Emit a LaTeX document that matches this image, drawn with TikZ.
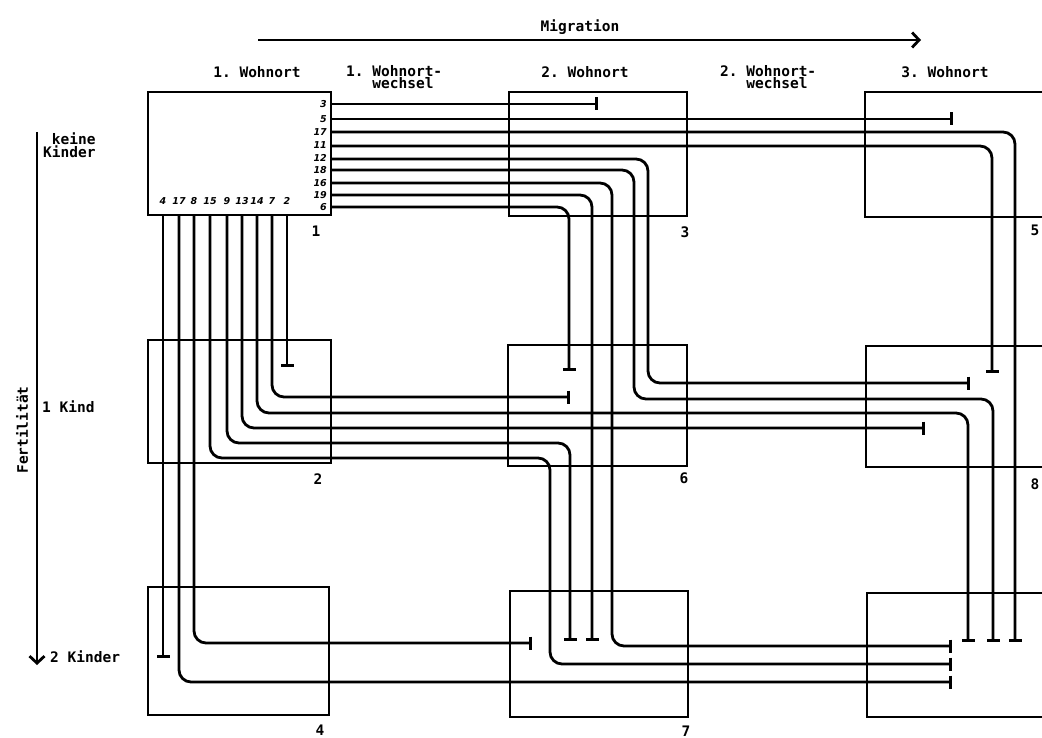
\documentclass[tikz,border=0pt]{standalone}
\usepackage{fontspec}
\setmonofont{DejaVu Sans Mono}
\newfontfamily\handfont{DejaVu Sans}
\usetikzlibrary{arrows.meta}
\begin{document}
\begin{tikzpicture}[x=1pt,y=-1pt,
  box/.style={draw,line width=2.1pt,inner sep=0pt,outer sep=0pt},
  conn/.style={line width=2.8pt,rounded corners=12pt,-{Bar[width=13pt,line width=2.8pt]}},
  hdr/.style={font=\fontsize{14.5}{14.5}\selectfont\ttfamily\bfseries,inner sep=0pt,align=left},
  num/.style={font=\fontsize{14.5}{14.5}\selectfont\ttfamily\bfseries,inner sep=0pt},
  lab/.style={font=\fontsize{9.5}{9.5}\selectfont\handfont\itshape\bfseries,inner sep=0pt},
  bigarrow/.style={line width=2.8pt,-{Straight Barb[length=7pt,width=15pt,line width=2.8pt]}}
]
\useasboundingbox[fill=white] (0,0) rectangle (1042,738);

% boxes
\node[box,minimum width=183pt,minimum height=123pt] (b1) at (239.5,153.5) {};
\node[box,minimum width=178pt,minimum height=124pt] (b3) at (598,154) {};
\node[box,minimum width=205pt,minimum height=125pt] (b5) at (967.5,154.5) {};
\node[box,minimum width=183pt,minimum height=123pt] (b2) at (239.5,401.5) {};
\node[box,minimum width=179pt,minimum height=121pt] (b6) at (597.5,405.5) {};
\node[box,minimum width=204pt,minimum height=121pt] (b8) at (968,406.5) {};
\node[box,minimum width=181pt,minimum height=128pt] (b4) at (238.5,651) {};
\node[box,minimum width=178pt,minimum height=126pt] (b7) at (599,654) {};
\node[box,minimum width=203pt,minimum height=124pt] (b9) at (968.5,655) {};

% box numbers
\node[num] (n1) at (316,231) {1};
\node[num] (n3) at (685,232) {3};
\node[num] (n5) at (1035,230) {5};
\node[num] (n2) at (318,479) {2};
\node[num] (n6) at (684,478) {6};
\node[num] (n8) at (1035,484) {8};
\node[num] (n4) at (320,730) {4};
\node[num] (n7) at (686,731) {7};

% headers
\node[hdr] (mig) at (580,27) {Migration};
\coordinate (ma) at (258,40);
\coordinate (mb) at (921,40);
\draw[bigarrow] (ma) -- (mb);
\node[hdr] (h1) at (257,72) {1. Wohnort};
\node[hdr,anchor=north west] (h2) at (346,65) {1. Wohnort-\\[-2pt]\ \ \ wechsel};
\node[hdr] (h3) at (585,72) {2. Wohnort};
\node[hdr,anchor=north west] (h4) at (720,65) {2. Wohnort-\\[-2pt]\ \ \ wechsel};
\node[hdr] (h5) at (945,72) {3. Wohnort};

\node[hdr,anchor=north west] (k0) at (43,133) {\ keine\\[-2pt]Kinder};
\node[hdr,anchor=west] (k1) at (42,407) {1 Kind};
\node[hdr,anchor=west] (k2) at (50,657) {2 Kinder};
\node[hdr,rotate=90] (fert) at (22,430) {Fertilität};
\coordinate (fa) at (37,132);
\coordinate (fb) at (37,665);
\draw[bigarrow] (fa) -- (fb);

% labels in box 1 (right side)
\foreach \t/\y in {3/104,5/119,17/132,11/145,12/158,18/170,16/183,19/195,6/207}
  \node[lab,anchor=east] at (327,\y) {\t};
% labels in box 1 (bottom)
\foreach \t/\x in {4/163,17/179,8/194,15/210,9/227,13/242,14/257,7/272,2/287}
  \node[lab] at (\x,201) {\t};

% connectors leaving box 1 to the right
\draw[conn] (b1.east |- 0,104) -- (598,104);
\draw[conn] (b1.east |- 0,119) -- (953,119);
\draw[conn] (b1.east |- 0,132) -- (1015,132) -- (1015,642);
\draw[conn] (b1.east |- 0,146) -- (992,146) -- (992,373);
\draw[conn] (b1.east |- 0,159) -- (648,159) -- (648,383) -- (970,383);
\draw[conn] (b1.east |- 0,170) -- (634,170) -- (634,399) -- (993,399) -- (993,642);
\draw[conn] (b1.east |- 0,183) -- (612,183) -- (612,646) -- (952,646);
\draw[conn] (b1.east |- 0,195) -- (592,195) -- (592,641);
\draw[conn] (b1.east |- 0,207) -- (569,207) -- (569,371);

% connectors leaving box 1 downwards
\draw[conn] (b1.south -| 163,0) -- (163,658);
\draw[conn] (b1.south -| 179,0) -- (179,682) -- (952,682);
\draw[conn] (b1.south -| 194,0) -- (194,643) -- (532,643);
\draw[conn] (b1.south -| 210,0) -- (210,458) -- (550,458) -- (550,664) -- (952,664);
\draw[conn] (b1.south -| 227,0) -- (227,443) -- (570,443) -- (570,641);
\draw[conn] (b1.south -| 242,0) -- (242,428) -- (925,428);
\draw[conn] (b1.south -| 257,0) -- (257,413) -- (968,413) -- (968,642);
\draw[conn] (b1.south -| 272,0) -- (272,397) -- (570,397);
\draw[conn] (b1.south -| 287,0) -- (287,367);
\end{tikzpicture}
\end{document}
